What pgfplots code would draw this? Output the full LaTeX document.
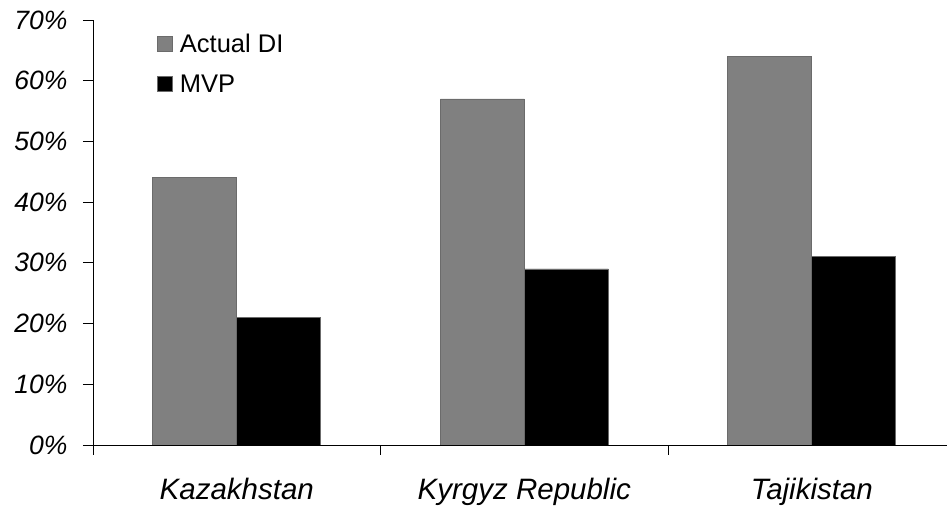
\documentclass[border=0pt]{standalone}
\usepackage{fontspec}
\setmainfont{Liberation Sans}
\usepackage{pgfplots}
\pgfplotsset{compat=1.18}
\pgfplotstableread{
x actual mvp
0 44 21
1 57 29
2 64 31
}\datatable
\begin{document}
\begin{tikzpicture}[x=1pt,y=1pt]
\begin{axis}[
  at={(0,0)}, anchor=south west,
  scale only axis, width=854pt, height=425pt,
  ybar=0pt, bar width=84pt,
  xmin=-0.5, xmax=2.47, ymin=0, ymax=70,
  axis lines*=left,
  axis line style={black, line width=0.9pt},
  tick align=outside,
  major tick length=10pt,
  tick style={black, line width=0.9pt},
  ytick={0,10,20,30,40,50,60,70},
  yticklabels={0\%,10\%,20\%,30\%,40\%,50\%,60\%,70\%},
  yticklabel style={font=\fontsize{26.5}{30}\selectfont\itshape, xshift=-12pt},
  xtick={-0.5,0.5,1.5},
  xticklabels={},
  extra x ticks={0,1,2},
  extra x tick labels={Kazakhstan,Kyrgyz Republic,Tajikistan},
  extra x tick style={major tick length=0pt,
    tick label style={font=\fontsize{29.5}{34}\selectfont\itshape, yshift=-30pt}},
  legend style={draw=none, fill=none, at={(axis description cs:0.075,1)}, yshift=-4pt,
    anchor=north west, inner sep=0pt, row sep=0pt, column sep=0pt,
    font=\fontsize{25.5}{30}\selectfont,
    nodes={inner sep=0pt, minimum height=40pt, anchor=west}},
  legend cell align=left,
]
\addplot[fill=black!50, draw=black!58, line width=0.8pt,
  legend image code/.code={\draw[fill=black!50, draw=black!58, line width=0.6pt] (0pt,-7.5pt) rectangle (15pt,7.5pt); \path (22pt,0pt);}]
  table[x=x, y=actual] {\datatable};
\addlegendentry{Actual DI}
\addplot[fill=black, draw=black!58, line width=0.8pt,
  legend image code/.code={\draw[fill=black, draw=black!58, line width=0.6pt] (0pt,-7.5pt) rectangle (15pt,7.5pt); \path (22pt,0pt);}]
  table[x=x, y=mvp] {\datatable};
\addlegendentry{MVP}
\end{axis}
\pgfresetboundingbox
\useasboundingbox (-93,-65) rectangle (854,445);
\end{tikzpicture}
\end{document}
